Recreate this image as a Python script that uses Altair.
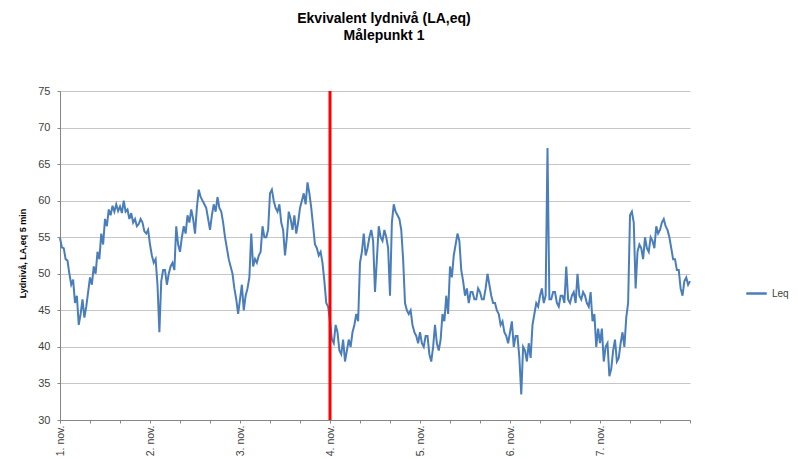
import altair as alt
import pandas as pd

# Half-hourly readings (dB), 48 per day, 1.-7. nov.
day1 = [54.9, 53.6, 53.5, 52.0, 51.8, 50.0, 48.5, 49.2, 46.0, 47.0, 43.0, 44.5,
        46.5, 44.0, 45.5, 47.5, 49.5, 48.5, 51.0, 50.0, 53.0, 52.0, 55.5, 54.0,
        57.5, 56.5, 58.8, 58.0, 59.3, 58.5, 59.5, 58.6, 59.2, 58.3, 60.0, 58.5,
        58.8, 57.5, 58.3, 57.0, 57.5, 56.5, 56.8, 57.5, 57.0, 55.8, 55.5, 56.0]
day2 = [54.0, 52.5, 51.5, 52.0, 48.5, 42.0, 49.0, 50.5, 50.5, 48.5, 50.0, 51.0,
        51.5, 50.5, 56.5, 54.0, 53.0, 55.0, 56.5, 55.5, 58.0, 57.0, 58.8, 57.5,
        55.5, 59.0, 61.5, 60.5, 60.0, 59.5, 59.0, 57.5, 56.0, 58.0, 59.5, 58.5,
        60.5, 59.0, 58.5, 57.0, 55.0, 53.5, 52.0, 51.0, 50.0, 48.0, 46.5, 44.5]
day3 = [46.5, 48.5, 45.0, 47.0, 48.0, 49.5, 55.5, 51.0, 52.0, 51.5, 52.5, 53.0,
        56.5, 55.0, 55.0, 56.0, 61.0, 61.5, 60.0, 59.0, 58.5, 59.5, 57.0, 56.0,
        52.5, 55.0, 58.5, 57.5, 56.0, 58.0, 55.5, 57.0, 59.0, 60.0, 61.0, 59.5,
        62.5, 61.0, 59.0, 56.5, 54.0, 53.5, 52.5, 53.0, 51.5, 49.0, 46.0, 45.5]
day4 = [43.5, 41.0, 40.5, 43.0, 42.0, 39.5, 39.0, 41.0, 38.0, 39.5, 41.0, 40.0,
        42.0, 43.0, 44.5, 43.5, 51.5, 53.0, 55.5, 52.5, 53.5, 55.0, 56.0, 54.5,
        47.5, 52.0, 56.5, 55.0, 54.5, 56.0, 55.0, 53.5, 47.0, 57.0, 59.5, 58.5,
        58.0, 57.5, 56.0, 52.0, 46.0, 45.0, 44.5, 45.0, 43.0, 42.0, 41.5, 40.5]
day5 = [42.0, 40.5, 40.0, 41.5, 41.5, 39.0, 38.0, 40.0, 43.0, 40.5, 39.5, 41.0,
        44.5, 43.5, 47.0, 44.5, 51.0, 49.5, 52.5, 54.0, 55.5, 54.5, 50.5, 49.0,
        47.0, 48.0, 46.0, 47.5, 47.5, 46.5, 46.5, 48.0, 47.5, 46.5, 46.5, 48.0,
        50.0, 48.5, 47.0, 46.0, 46.0, 45.0, 44.5, 43.0, 43.5, 42.0, 41.5, 40.5]
day6 = [42.0, 43.5, 40.0, 41.5, 41.5, 38.5, 33.5, 40.0, 39.5, 38.0, 40.5, 38.5,
        43.0, 44.5, 46.0, 45.5, 47.0, 48.0, 46.0, 47.0, 67.2, 46.5, 46.5, 47.5,
        47.5, 46.0, 45.5, 47.0, 47.0, 46.0, 51.0, 46.5, 46.0, 47.0, 47.5, 46.0,
        50.0, 47.0, 46.5, 47.5, 47.0, 46.0, 45.5, 47.5, 43.5, 44.5, 40.0, 42.5]
day7 = [40.5, 42.5, 38.0, 40.0, 40.5, 36.0, 37.0, 39.5, 41.0, 38.0, 38.5, 40.5,
        42.0, 40.0, 44.0, 46.0, 58.0, 58.5, 57.0, 48.0, 53.0, 54.0, 53.5, 52.0,
        55.0, 53.5, 53.0, 55.0, 54.5, 53.5, 56.5, 55.5, 56.0, 57.0, 57.5, 56.5,
        56.0, 55.0, 53.5, 52.0, 52.0, 50.5, 50.5, 48.0, 47.0, 49.0, 49.5, 48.5]
end_value = [49.0]

values = day1 + day2 + day3 + day4 + day5 + day6 + day7 + end_value
hours = [i / 2 for i in range(len(values))]

day_labels = ["1. nov.", "2. nov.", "3. nov.", "4. nov.", "5. nov.", "6. nov.", "7. nov."]
marker_hour = [72]
series_name = "Leq"

df = pd.DataFrame({"h": hours, "v": values, "s": [series_name] * len(values)})
marker_df = pd.DataFrame({"h": marker_hour})

label_expr = ("datum.value % 24 == 0 && datum.value < 168 ? "
              "(datum.value / 24 + 1) + '. nov.' : ''")

x_axis = alt.Axis(
    values=list(range(0, 169, 8)),
    labelExpr=label_expr,
    labelAngle=-90,
    labelAlign="right",
    labelBaseline="middle",
    labelFontSize=10.5,
    labelColor="#404040",
    labelPadding=2,
    labelOverlap=False,
    labelFlush=False,
    tickSize=3,
    tickColor="#868686",
    domainColor="#868686",
    grid=False,
    title=None,
)
x_scale = alt.Scale(domain=[0, 168], nice=False, zero=False)

line = alt.Chart(df).mark_line(strokeWidth=2.0, interpolate="linear").encode(
    x=alt.X("h:Q", scale=x_scale, axis=x_axis),
    y=alt.Y(
        "v:Q",
        scale=alt.Scale(domain=[30, 75], nice=False, zero=False),
        axis=alt.Axis(
            values=list(range(30, 76, 5)),
            labelFontSize=11,
            labelColor="#404040",
            labelPadding=7,
            tickSize=3,
            tickColor="#868686",
            domainColor="#868686",
            gridColor="#c6c6c6",
            title="Lydnivå, LA,eq 5 min",
            titleFontSize=9,
            titleFontWeight="bold",
            titleColor="#000000",
            titleX=-33,
            titleY=162,
            titleAngle=-90,
        ),
    ),
    color=alt.Color(
        "s:N",
        scale=alt.Scale(domain=[series_name], range=["#4a7ebb"]),
        legend=alt.Legend(
            title=None,
            orient="none",
            legendX=685,
            legendY=191,
            symbolType="stroke",
            symbolSize=420,
            symbolStrokeWidth=2.5,
            labelFontSize=10,
            labelColor="#404040",
        ),
    ),
)

marker = alt.Chart(marker_df).mark_rule(color="#ff0000", strokeWidth=3).encode(
    x=alt.X("h:Q", scale=x_scale, axis=x_axis)
)

chart = (
    alt.layer(line, marker)
    .properties(
        width=630,
        height=329,
        padding={"left": 52, "top": 83, "right": 100, "bottom": 38},
        autosize=alt.AutoSizeParams(type="none"),
        title=alt.TitleParams(
            text=["Ekvivalent lydnivå (LA,eq)", "Målepunkt 1"],
            fontSize=14,
            fontWeight="bold",
            font="Liberation Sans",
            color="#000000",
            anchor="middle",
            dx=9,
            offset=42,
            lineHeight=17,
        ),
    )
    .configure(font="Liberation Sans")
    .configure_axis(labelOverlap=False)
    .configure_view(stroke=None)
)

chart.save("out.html", embed_options={"renderer": "svg", "actions": False})
